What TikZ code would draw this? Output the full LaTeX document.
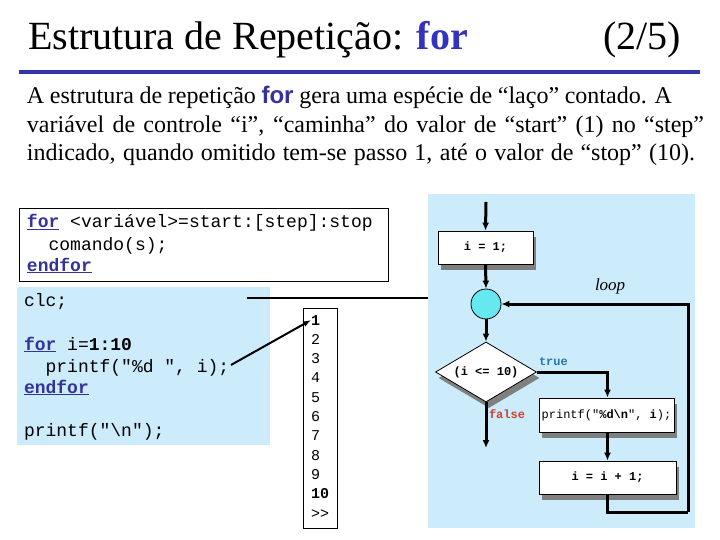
\documentclass[tikz,border=0pt]{standalone}
\usepackage{fontspec}
\setmainfont{Liberation Serif}
\setmonofont{Liberation Mono}
\newfontfamily\parasans{Liberation Sans}
\usetikzlibrary{arrows.meta,shapes.geometric,shadows}
\definecolor{titleblue}{RGB}{51,51,153}
\definecolor{headblue}{RGB}{51,51,190}
\definecolor{ruleblue}{RGB}{51,51,170}
\definecolor{panel}{RGB}{204,235,251}
\definecolor{cyanball}{RGB}{102,232,240}
\definecolor{truecol}{RGB}{40,120,170}
\definecolor{falsecol}{RGB}{205,65,45}
\definecolor{shadowgray}{RGB}{128,128,128}
\newcommand{\kw}[1]{\textcolor{titleblue}{\underline{\textbf{#1}}}}
\begin{document}
\begin{tikzpicture}[x=1pt,y=-1pt,
  txt/.style={anchor=base west,inner sep=0,outer sep=0},
  para/.style={txt,font=\fontsize{24}{28}\selectfont},
  code/.style={txt,font=\fontsize{18}{21.6}\selectfont\ttfamily},
  outnum/.style={txt,font=\fontsize{15}{18}\selectfont\ttfamily},
  fc/.style={draw=black,line width=0.8pt,fill=white,inner sep=0,
     font=\fontsize{12}{14}\selectfont\ttfamily\bfseries,
     general shadow={shadow xshift=3pt,shadow yshift=-6pt,fill=shadowgray}},
  flow/.style={line width=3pt,-{Latex[length=8pt,width=7pt]}},
  flowline/.style={line width=3pt}
]
\useasboundingbox (0,0) rectangle (720,540);
\fill[white] (0,0) rectangle (720,540);

% title
\node[txt,font=\fontsize{40}{48}\selectfont] (title) at (28,50)
  {Estrutura de Repetição: \textcolor{headblue}{\textbf{for}}};
\node[anchor=base east,inner sep=0,font=\fontsize{40}{48}\selectfont] (page) at (681,50) {(2/5)};
\fill[ruleblue] (19,70) rectangle (700,74);

% paragraph
\node[para] (p1) at (27,104) {\makebox[645pt][s]{A estrutura de repetição \textcolor{titleblue}{\parasans\bfseries for} gera uma espécie de “laço” contado. A}};
\node[para] (p2) at (27,133) {\makebox[677pt][s]{variável de controle “i”, “caminha” do valor de “start” (1) no “step”}};
\node[para] (p3) at (27,161) {\makebox[668pt][s]{indicado, quando omitido tem-se passo 1, até o valor de “stop” (10).}};

% syntax box
\node[draw=black,line width=1pt,fill=white,anchor=north west,minimum width=369pt,minimum height=73pt,inner sep=0] (box1) at (19,208) {};
\node[code] (s1) at (27,228) {\kw{for} <variável>=start:[step]:stop};
\node[code] (s2) at (27,250) {\phantom{xx}comando(s);};
\node[code] (s3) at (27,271) {\kw{endfor}};

% example panel
\node[fill=panel,anchor=north west,minimum width=253pt,minimum height=158pt,inner sep=0] (panelL) at (17,287) {};
\node[code] (c1) at (24,306) {clc;};
\node[code] (c2) at (24,350) {\kw{for} i=\textbf{1:10}};
\node[code] (c3) at (24,372) {\phantom{xx}printf("\%d ", i);};
\node[code] (c4) at (24,393) {\kw{endfor}};
\node[code] (c5) at (24,436) {printf("\textbackslash n");};

% output box
\node[draw=black,line width=1pt,fill=white,anchor=north west,minimum width=34pt,minimum height=220pt,inner sep=0] (outbox) at (303,308) {};
\node[outnum] (o1) at (311,325) {\textbf{1}};
\node[outnum] (o2) at (311,344.3) {2};
\node[outnum] (o3) at (311,363.6) {3};
\node[outnum] (o4) at (311,382.9) {4};
\node[outnum] (o5) at (311,402.2) {5};
\node[outnum] (o6) at (311,421.5) {6};
\node[outnum] (o7) at (311,440.8) {7};
\node[outnum] (o8) at (311,460.1) {8};
\node[outnum] (o9) at (311,479.4) {9};
\node[outnum] (o10) at (311,498.7) {\textbf{10}};
\node[outnum] (o11) at (311,518) {>>};

% flowchart panel
\node[fill=panel,anchor=north west,minimum width=267pt,minimum height=334pt,inner sep=0] (panelR) at (428,194) {};

% connector from code to output
\coordinate (cEnd) at (231,365);
\draw[line width=2pt,-{Latex[length=8pt,width=6pt]}] (cEnd) -- (o1.west);
\coordinate (hl1) at (247,298);
\coordinate (hl2) at (428,298);
\draw[line width=1.6pt] (hl1) -- (hl2);

% flowchart
\node[fc,minimum width=95pt,minimum height=33pt] (b1) at (485.5,247.5) {i = 1;};
\node[circle,draw=black,line width=0.8pt,fill=cyanball,minimum size=30pt,inner sep=0] (ball) at (486,304) {};
\node[fc,diamond,minimum width=101pt,minimum height=60pt,aspect=1.7] (d) at (486,372) {(i <= 10)};
\node[fc,minimum width=135pt,minimum height=34pt,font=\fontsize{12}{14}\selectfont\ttfamily] (b2) at (606.5,415) {printf("\textbf{\%d\textbackslash n}", \textbf{i});};
\node[fc,minimum width=137pt,minimum height=33pt] (b3) at (607.5,477.5) {i = i + 1;};

\coordinate (top) at (486,202);
\coordinate (exit) at (486,448);
\coordinate (lp) at (688,512);
\draw[flow] (top) -- (b1.north);
\draw[flow] (b1.south) -- (ball.north);
\draw[flow] (ball.south) -- (d.north);
\draw[flow] (d.east) -| (b2.north -| b3.north);
\draw[flow] (b2.south -| b3.north) -- (b3.north);
\draw[flow] (d.south) -- (exit);
\draw[flowline] (b3.south) |- (lp);
\draw[flow] (lp) |- (ball.east);

\node[txt,font=\fontsize{17}{20}\selectfont\itshape] (loop) at (595,290) {loop};
\node[txt,font=\fontsize{12}{14}\selectfont\ttfamily\bfseries,text=truecol] (true) at (539,365) {true};
\node[txt,font=\fontsize{12}{14}\selectfont\ttfamily\bfseries,text=falsecol] (false) at (489,418) {false};
\end{tikzpicture}
\end{document}
